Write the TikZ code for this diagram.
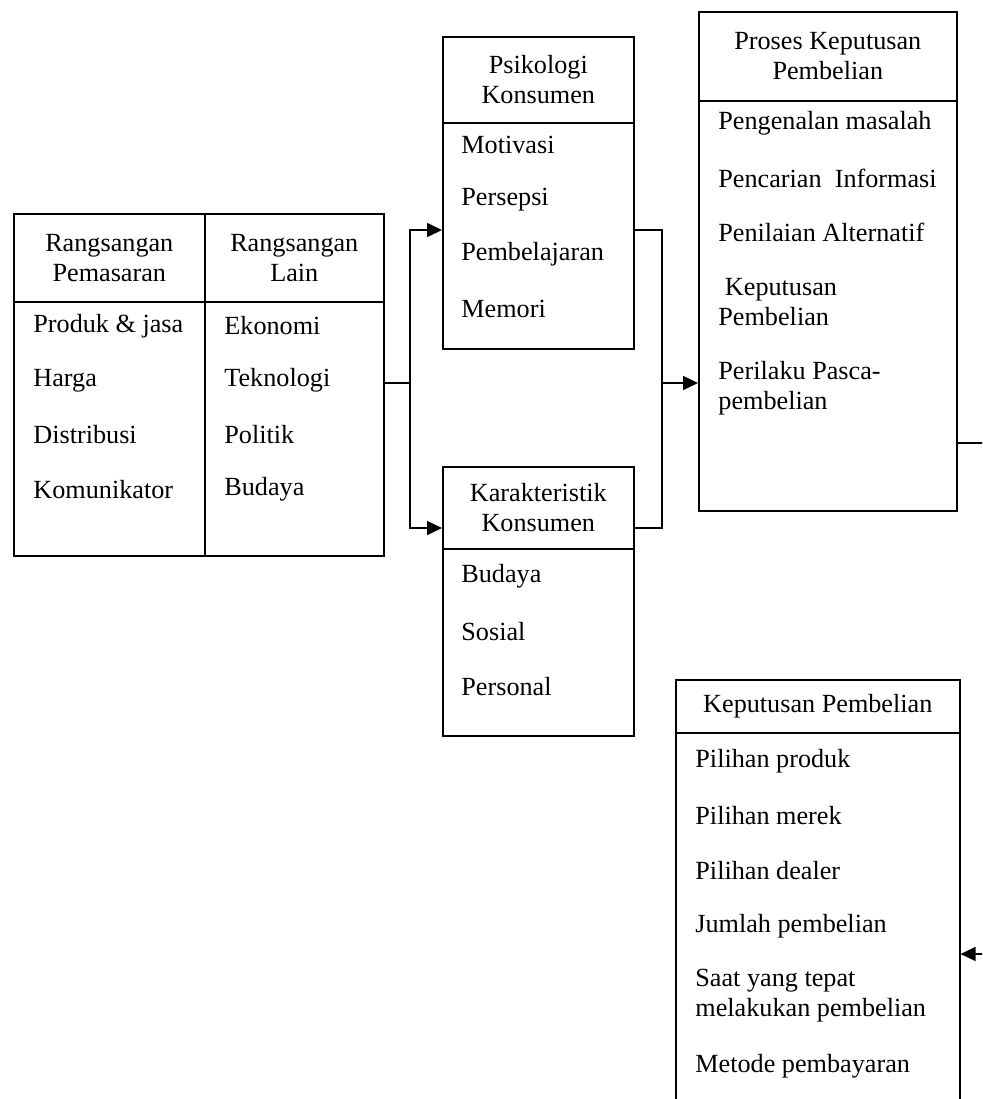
\documentclass[tikz,border=0pt]{standalone}
\usepackage{fontspec}
\setmainfont{Liberation Serif}
\usetikzlibrary{arrows.meta}

\tikzset{
  box/.style={draw, line width=0.8pt, inner sep=0pt, anchor=north west, align=center,
    font=\fontsize{13.1}{15}\selectfont},
  item/.style={anchor=west, inner sep=0pt, align=left, font=\fontsize{13.1}{15}\selectfont},
  link/.style={line width=0.8pt},
  arr/.style={line width=0.8pt, -{Triangle[length=7.5pt,width=7pt]}}
}

\begin{document}
\begin{tikzpicture}[x=0.5pt, y=-0.5pt]
    \useasboundingbox (0,0) rectangle (982,1099);
    \clip (0,0) rectangle (982,1099);

    % rangsangan
    \node[box, minimum width=95.5pt, minimum height=44pt] (rpHead) at (13,213) {Rangsangan\\Pemasaran};
    \node[box, minimum width=89.5pt, minimum height=44pt] (rlHead) at (204,213) {Rangsangan\\Lain};
    \node[box, minimum width=95.5pt, minimum height=127pt] (rpBody) at (13,301) {};
    \node[box, minimum width=89.5pt, minimum height=127pt] (rlBody) at (204,301) {};
    \foreach \txt/\yy [count=\i] in {Produk \& jasa/326, Harga/380.5, Distribusi/435, Komunikator/489.5}
        \node[item] (rp-\i) at (33,\yy) {\txt};
    \foreach \txt/\yy [count=\i] in {Ekonomi/326, Teknologi/380.5, Politik/435, Budaya/489.5}
        \node[item] (rl-\i) at (224,\yy) {\txt};

    % psikologi dan karakteristik
    \node[box, minimum width=95.5pt, minimum height=43pt] (psiHead) at (442,36) {Psikologi\\Konsumen};
    \node[box, minimum width=95.5pt, minimum height=113pt] (psiBody) at (442,122) {};
    \foreach \txt/\yy [count=\i] in {Motivasi/145, Persepsi/200, Pembelajaran/254.5, Memori/309}
        \node[item] (psi-\i) at (461,\yy) {\txt};
    \node[box, minimum width=95.5pt, minimum height=41pt] (karHead) at (442,466) {Karakteristik\\Konsumen};
    \node[box, minimum width=95.5pt, minimum height=93.5pt] (karBody) at (442,548) {};
    \foreach \txt/\yy [count=\i] in {Budaya/576, Sosial/631.5, Personal/687}
        \node[item] (kar-\i) at (461,\yy) {\txt};

    % proses keputusan
    \node[box, minimum width=129pt, minimum height=44.5pt] (proHead) at (698,11) {Proses Keputusan\\Pembelian};
    \node[box, minimum width=129pt, minimum height=205pt] (proBody) at (698,100) {};
    \foreach \txt/\yy [count=\i] in {Pengenalan masalah/123, Pencarian\ \ Informasi/178, Penilaian Alternatif/232.5,
        \ Keputusan\\Pembelian/302.5, Perilaku Pasca-\\pembelian/388}
        \node[item] (pro-\i) at (718,\yy) {\txt};

    % keputusan pembelian
    \node[box, minimum width=142pt, minimum height=26.5pt] (kepHead) at (675,679) {Keputusan Pembelian};
    \node[box, minimum width=142pt, minimum height=195pt] (kepBody) at (675,732) {};
    \foreach \txt/\yy [count=\i] in {Pilihan produk/761, Pilihan merek/816, Pilihan dealer/871, Jumlah pembelian/926,
        Saat yang tepat\\melakukan pembelian/996, Metode pembayaran/1066}
        \node[item] (kep-\i) at (695,\yy) {\txt};

    % connectors
    \coordinate (rowA) at (0,230);
    \coordinate (rowB) at (0,383);
    \coordinate (rowC) at (0,528);
    \coordinate (rowD) at (0,443);
    \coordinate (rowE) at (0,954);
    \coordinate (forkL) at (410,383);
    \coordinate (forkR) at (662,383);
    \coordinate (offR) at (1000,443);
    \draw[link] (rlBody.east |- rowB) -- (forkL);
    \draw[arr] (forkL) |- (psiBody.west |- rowA);
    \draw[arr] (forkL) |- (karHead.west |- rowC);
    \draw[link] (psiBody.east |- rowA) -| (forkR);
    \draw[link] (karHead.east |- rowC) -| (forkR);
    \draw[arr] (forkR) -- (proBody.west |- rowB);
    \draw[arr] (proBody.east |- rowD) -- (offR) |- (kepBody.east |- rowE);
\end{tikzpicture}
\end{document}
